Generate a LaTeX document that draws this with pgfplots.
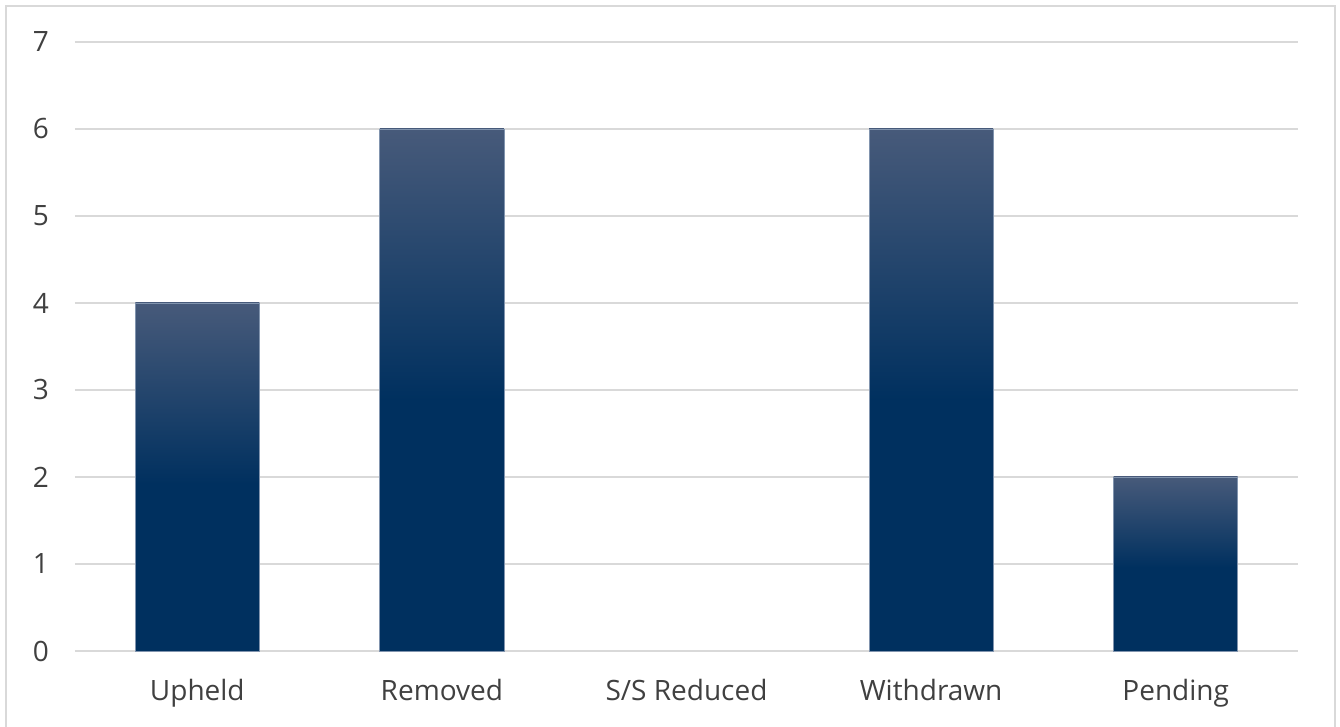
\documentclass[border=0pt]{standalone}
\usepackage{fontspec}
\setmainfont{Open Sans}
\usepackage{pgfplots}
\pgfplotsset{compat=1.18}
\definecolor{barbot}{HTML}{00305F}
\definecolor{bartop}{HTML}{475A7A}
\definecolor{baredge}{HTML}{8194AE}
\definecolor{gridc}{HTML}{D9D9D9}
\definecolor{txtc}{HTML}{404040}
\pgfdeclareverticalshading{barshade}{100bp}{color(0bp)=(barbot); color(49bp)=(barbot); color(75bp)=(bartop); color(100bp)=(bartop)}
\begin{document}
\begin{tikzpicture}
\useasboundingbox (-37.5pt,-38pt) rectangle (632.5pt,325.5pt);
\draw[gridc, line width=0.9pt] (-34.5pt,-45pt) rectangle (630pt,322.5pt);
\begin{axis}[
  scale only axis,
  width=611.5pt, height=304.5pt,
  at={(0pt,0pt)}, anchor=south west,
  xmin=-0.5, xmax=4.5,
  ymin=0, ymax=7,
  ytick={0,1,...,7},
  xtick={0,1,2,3,4},
  xticklabels={Upheld,Removed,S/S Reduced,Withdrawn,Pending},
  axis line style={draw=none},
  major tick length=0pt,
  ymajorgrids,
  grid style={gridc, line width=0.8pt},
  tick label style={font=\fontsize{14}{16}\selectfont, text=txtc},
  /pgf/number format/assume math mode=true,
  yticklabel style={xshift=-9.5pt},
  xticklabel style={yshift=-10.5pt},
  clip=false,
  barsty/.style={ybar, bar shift=0pt, bar width=62pt, shading=barshade, draw=baredge, line width=0.4pt},
]
\addplot[barsty] coordinates {(0,4)};
\addplot[barsty] coordinates {(1,6)};
\addplot[barsty] coordinates {(3,6)};
\addplot[barsty] coordinates {(4,2)};
\end{axis}
\end{tikzpicture}
\end{document}
